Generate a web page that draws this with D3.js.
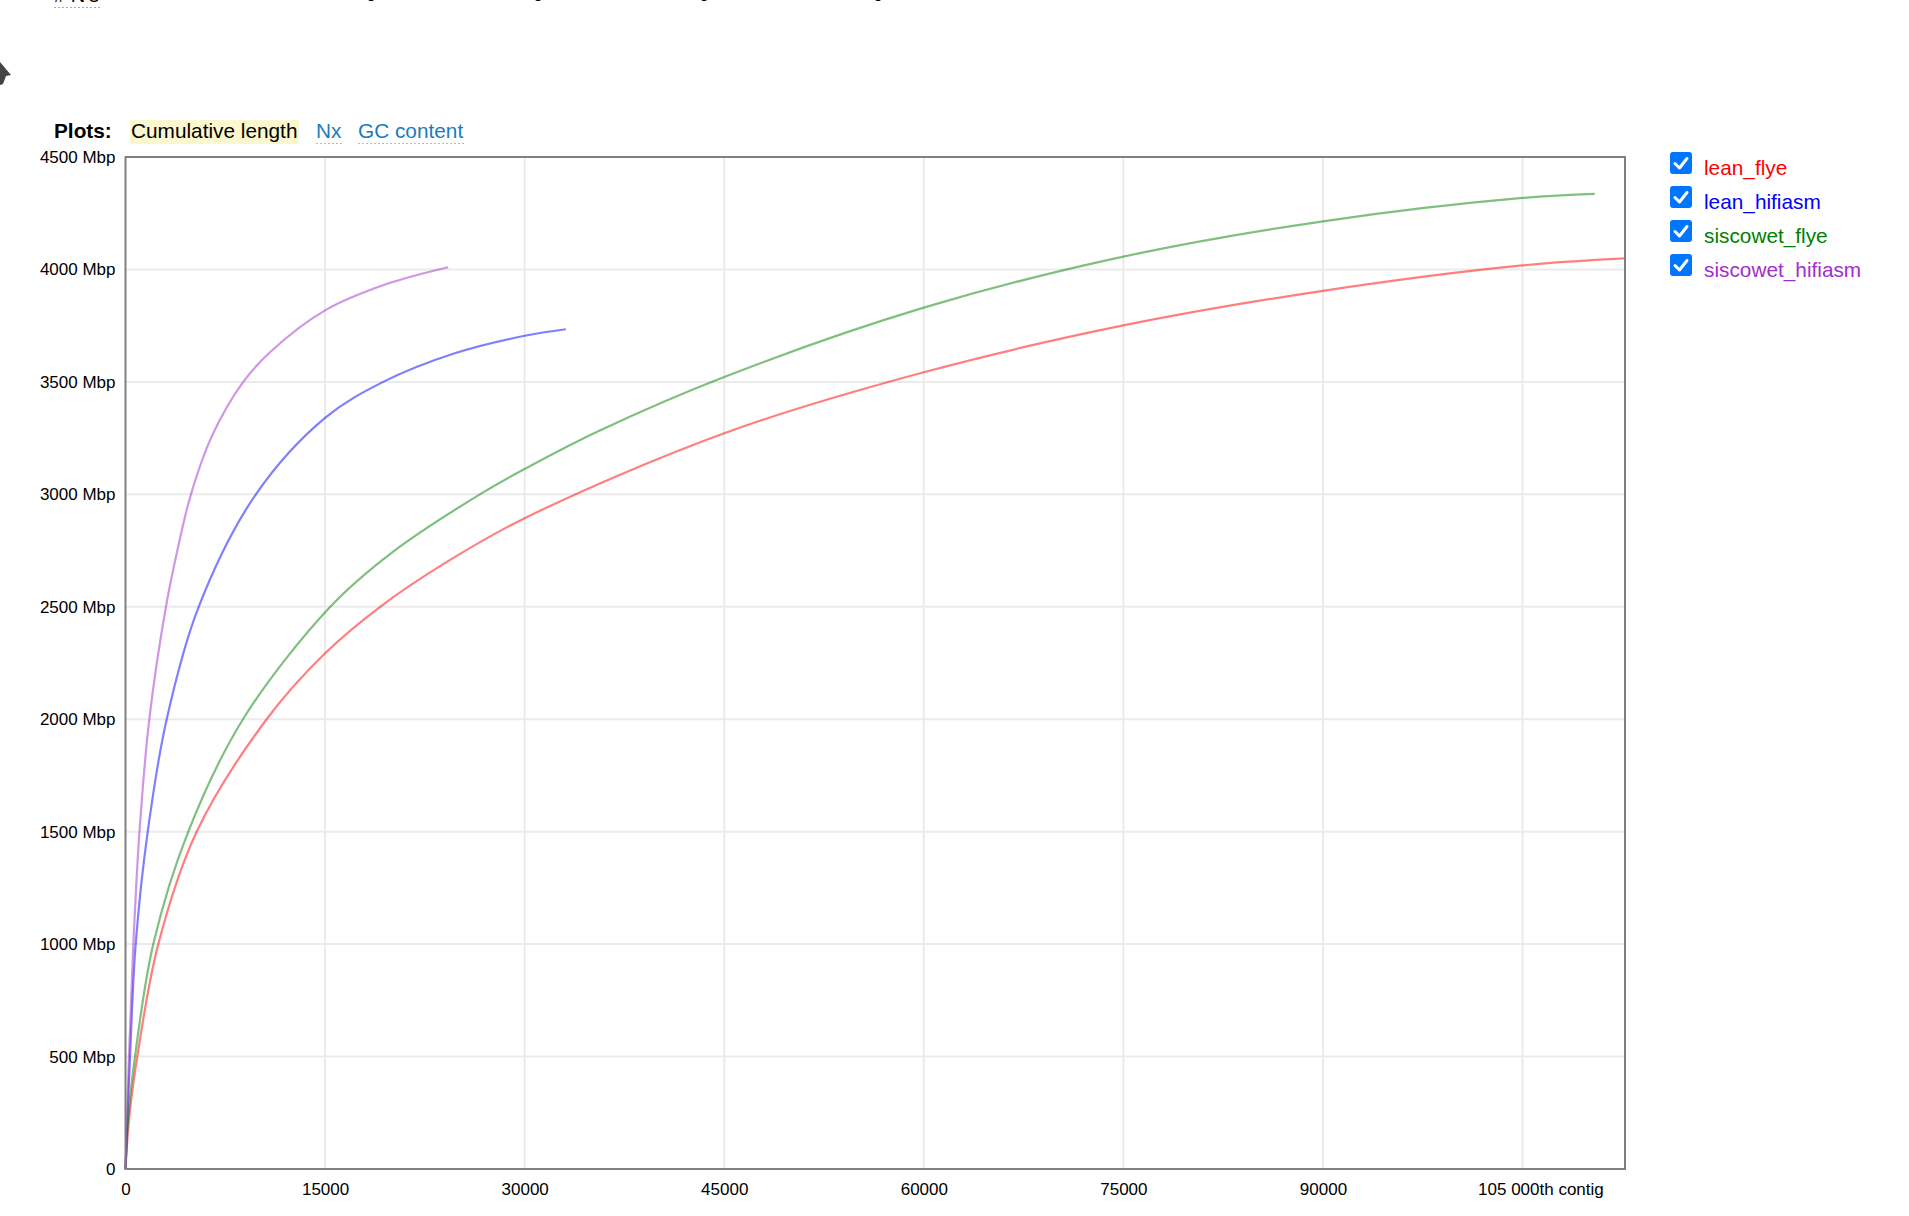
<!DOCTYPE html>
<html>
<head>
<meta charset="utf-8">
<script src="https://cdn.jsdelivr.net/npm/d3@7"></script>
<style>
  body { margin: 0; background: #fff; font-family: "Liberation Sans", Arial, sans-serif; }
  svg text { font-family: "Liberation Sans", Arial, sans-serif; }
</style>
</head>
<body>
<svg id="chart" width="1909" height="1216"></svg>
<script>
// series names and legend colours
var seriesNames = ["lean_flye", "lean_hifiasm", "siscowet_flye", "siscowet_hifiasm"];
var seriesColors = ["#ff0000", "#0000ff", "#008000", "#a22dcc"];

// cumulative length curves (contig index, Mbp)
var leanFlyeContigs = [0, 285, 887, 2464, 5349, 10608, 15000, 19140, 24000, 30000, 45000, 60000, 75000, 90000, 105000, 112700];
var leanFlyeMbp     = [0, 232, 500, 1000, 1500, 2000, 2293, 2500, 2694, 2894, 3272, 3543, 3751, 3905, 4018, 4049];

var leanHifiasmContigs = [0, 340, 765, 1670, 3095, 5500, 9800, 15000, 19370, 24630, 30000, 33095];
var leanHifiasmMbp     = [0, 500, 1000, 1500, 2000, 2500, 3000, 3340, 3500, 3625, 3705, 3734];

var siscowetFlyeContigs = [0, 210, 714, 2089, 4718, 8830, 15390, 20000, 26630, 30000, 35650, 45000, 60000, 75000, 90000, 105000, 110430];
var siscowetFlyeMbp     = [0, 232, 500, 1000, 1500, 2000, 2500, 2740, 3000, 3113, 3284, 3522, 3830, 4057, 4214, 4318, 4336];

var siscowetHifiasmContigs = [0, 260, 590, 1050, 1790, 3040, 4000, 4920, 6500, 8850, 10860, 15000, 19620, 24250];
var siscowetHifiasmMbp     = [0, 500, 1000, 1500, 2000, 2500, 2778, 3000, 3260, 3500, 3632, 3818, 3935, 4010];

var xTicks = [0, 15000, 30000, 45000, 60000, 75000, 90000, 105000];
var xTickLabels = ["0", "15000", "30000", "45000", "60000", "75000", "90000", "105 000th contig"];
var yTicks = [0, 500, 1000, 1500, 2000, 2500, 3000, 3500, 4000, 4500];
var yTickLabels = ["0", "500 Mbp", "1000 Mbp", "1500 Mbp", "2000 Mbp", "2500 Mbp", "3000 Mbp", "3500 Mbp", "4000 Mbp", "4500 Mbp"];

var plotTabs = ["Cumulative length", "Nx", "GC content"];
var topRowLabel = "# N's";
var topRowValues = ["0", "0", "0", "0"];

(function () {
  var series = [
    { contigs: leanFlyeContigs, mbp: leanFlyeMbp },
    { contigs: leanHifiasmContigs, mbp: leanHifiasmMbp },
    { contigs: siscowetFlyeContigs, mbp: siscowetFlyeMbp },
    { contigs: siscowetHifiasmContigs, mbp: siscowetHifiasmMbp }
  ].map(function (s, i) {
    return { name: seriesNames[i], color: seriesColors[i],
             points: s.contigs.map(function (c, j) { return [c, s.mbp[j]]; }) };
  });

  var svg = d3.select("#chart");

  var pLeft = 125.5, pRight = 1625, pTop = 157, pBottom = 1169;
  var x = d3.scaleLinear().domain([0, 112700]).range([pLeft, pRight]);
  var y = d3.scaleLinear().domain([0, 4500]).range([pBottom, pTop]);

  // cut-off row of the report table above the plot
  svg.append("text").attr("x", 54).attr("y", 2).style("font-size", "20px").text(topRowLabel);
  svg.append("line").attr("x1", 54).attr("x2", 101).attr("y1", 7.5).attr("y2", 7.5)
    .attr("stroke", "#aaa").attr("stroke-dasharray", "2,2");
  svg.selectAll(".toprow").data(topRowValues).enter().append("text")
    .attr("x", function (d, i) { return [371, 538, 704, 878][i]; })
    .attr("y", 1).attr("text-anchor", "middle").style("font-size", "20px")
    .text(function (d) { return d; });

  // mouse pointer at the left edge
  svg.append("path").attr("d", "M0,62 L11,75 L6,76 L3,84 L0,85 Z").attr("fill", "#444");

  // Plots: tabs
  var tabSize = "20.8px";
  svg.append("text").attr("x", 54).attr("y", 138).style("font-size", tabSize).style("font-weight", "bold").text("Plots:");
  svg.append("rect").attr("x", 130).attr("y", 120).attr("width", 169).attr("height", 24).attr("fill", "#fbf8cf");
  svg.append("text").attr("x", 131).attr("y", 138).style("font-size", tabSize).attr("fill", "#000").text(plotTabs[0]);
  [[316, 342], [358, 465]].forEach(function (p, i) {
    svg.append("text").attr("x", p[0]).attr("y", 138).style("font-size", tabSize).attr("fill", "#1a7bbf").text(plotTabs[i + 1]);
    svg.append("line").attr("x1", p[0]).attr("x2", p[1]).attr("y1", 143.5).attr("y2", 143.5)
      .attr("stroke", "#9cc3e0").attr("stroke-dasharray", "2,2");
  });

  // grid
  svg.append("g").selectAll("line").data(xTicks.slice(1)).enter().append("line")
    .attr("x1", function (d) { return x(d); }).attr("x2", function (d) { return x(d); })
    .attr("y1", pTop).attr("y2", pBottom).attr("stroke", "#ebebeb").attr("stroke-width", 2);
  svg.append("g").selectAll("line").data(yTicks.slice(1, -1)).enter().append("line")
    .attr("x1", pLeft).attr("x2", pRight)
    .attr("y1", function (d) { return y(d); }).attr("y2", function (d) { return y(d); })
    .attr("stroke", "#ebebeb").attr("stroke-width", 2);

  // curves
  var line = d3.line()
    .x(function (d) { return x(d[0]); })
    .y(function (d) { return y(d[1]); })
    .curve(d3.curveCatmullRom.alpha(0.5));

  svg.append("g").selectAll("path").data(series).enter().append("path")
    .attr("d", function (d) { return line(d.points); })
    .attr("fill", "none")
    .attr("stroke", function (d) { return d.color; })
    .attr("stroke-opacity", 0.5)
    .attr("stroke-width", 2.2);

  // frame
  svg.append("rect").attr("x", pLeft).attr("y", pTop).attr("width", pRight - pLeft).attr("height", pBottom - pTop)
    .attr("fill", "none").attr("stroke", "#808080").attr("stroke-width", 2);

  // axes
  var xAxis = d3.axisBottom(x).tickValues(xTicks).tickSize(0)
    .tickFormat(function (d, i) { return xTickLabels[i]; });
  var gx = svg.append("g").attr("transform", "translate(0," + pBottom + ")").call(xAxis);
  gx.select(".domain").remove();
  gx.selectAll("text").attr("y", 14).attr("dy", "0.71em").attr("fill", "#000")
    .style("font-size", "17px").style("font-family", "Liberation Sans, Arial, sans-serif");
  gx.selectAll(".tick").filter(function (d) { return d === 105000; }).select("text")
    .attr("text-anchor", "start").attr("x", -45);

  var yAxis = d3.axisLeft(y).tickValues(yTicks).tickSize(0)
    .tickFormat(function (d, i) { return yTickLabels[i]; });
  var gy = svg.append("g").attr("transform", "translate(" + (pLeft - 10) + ",0)").call(yAxis);
  gy.select(".domain").remove();
  gy.selectAll("text").attr("x", 0).attr("fill", "#000")
    .style("font-size", "17px").style("font-family", "Liberation Sans, Arial, sans-serif");

  // legend with checkboxes
  var legend = svg.append("g").selectAll("g").data(series).enter().append("g")
    .attr("transform", function (d, i) { return "translate(1670," + (152 + i * 34) + ")"; });
  legend.append("rect").attr("width", 22).attr("height", 22).attr("rx", 3).attr("fill", "#0075ff");
  legend.append("path").attr("d", "M5,11.5 L9.5,16 L17,6.5").attr("fill", "none")
    .attr("stroke", "#fff").attr("stroke-width", 3).attr("stroke-linecap", "round").attr("stroke-linejoin", "round");
  legend.append("text").attr("x", 34).attr("y", 23).style("font-size", tabSize)
    .attr("fill", function (d) { return d.color; }).text(function (d) { return d.name; });
})();
</script>
</body>
</html>
